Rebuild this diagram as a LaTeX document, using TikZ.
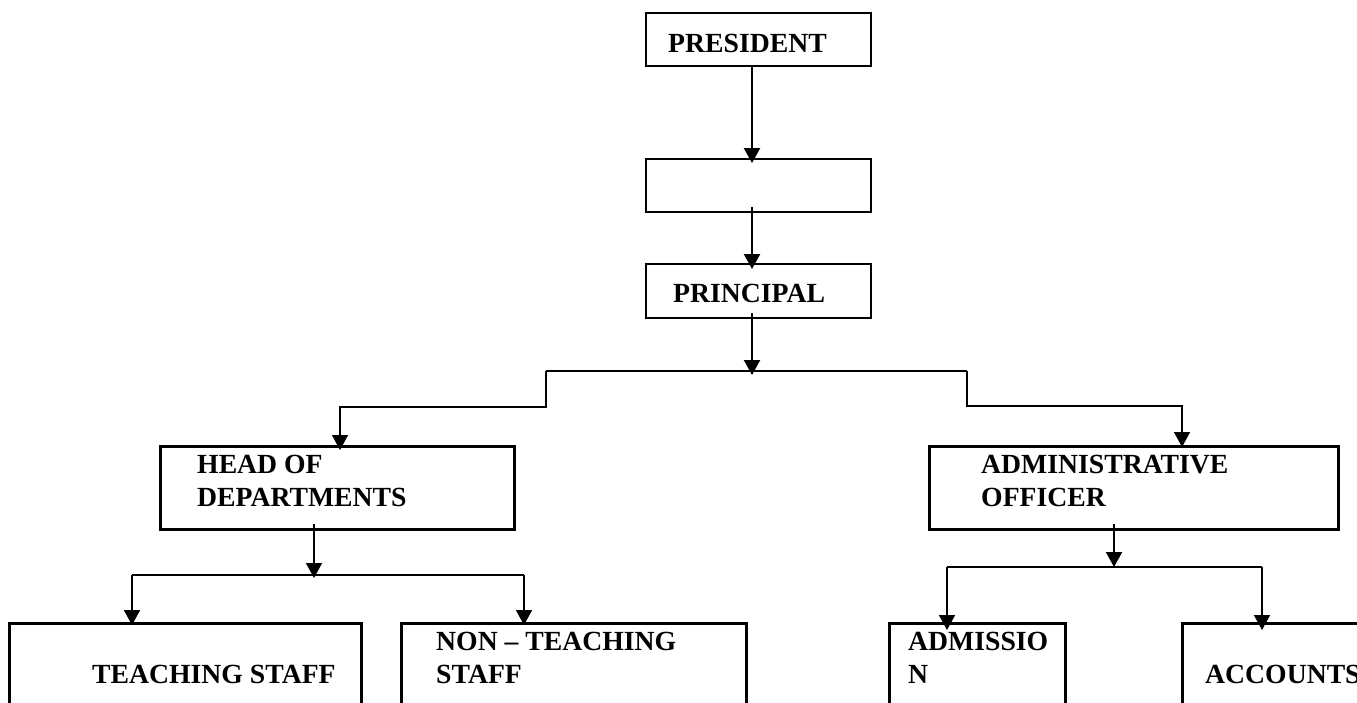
\documentclass[tikz,border=0pt]{standalone}
\usepackage{fontspec}
\setmainfont{Liberation Serif}
\usetikzlibrary{arrows.meta,calc}
\begin{document}
\begin{tikzpicture}[x=1pt,y=-1pt,
  thinbox/.style={draw=black,line width=1.3pt,rectangle,inner sep=0pt,outer sep=0pt},
  thickbox/.style={draw=black,line width=3pt,rectangle,inner sep=0pt,outer sep=0pt},
  lbl/.style={anchor=base west,inner sep=0pt,font=\bfseries\fontsize{27.7}{33}\selectfont},
  conn/.style={draw=black,line width=1.5pt},
  arr/.style={draw=black,line width=2.2pt,-{Triangle[width=16pt,length=15pt]}},
  arrt/.style={draw=black,line width=1.6pt,-{Triangle[width=16pt,length=15pt]}}]
\useasboundingbox (0,0) rectangle (1357,702);
\clip (0,0) rectangle (1357,702);
\fill[white] (0,0) rectangle (1357,702);
% boxes
\node[thinbox,minimum width=225pt,minimum height=53pt] (pres) at (758.5,39.5) {};
\node[thinbox,minimum width=225pt,minimum height=53pt] (blank) at (758.5,185.5) {};
\node[thinbox,minimum width=225pt,minimum height=54pt] (princ) at (758.5,291) {};
\node[thickbox,minimum width=354pt,minimum height=83pt] (hod) at (337,487.5) {};
\node[thickbox,minimum width=409pt,minimum height=83pt] (admin) at (1133.5,487.5) {};
\node[thickbox,minimum width=352pt,minimum height=100pt] (teach) at (185,673) {};
\node[thickbox,minimum width=345pt,minimum height=100pt] (non) at (573.5,673) {};
\node[thickbox,minimum width=176pt,minimum height=100pt] (adm) at (977,673) {};
\node[thickbox,minimum width=240pt,minimum height=100pt] (acc) at (1302,673) {};
% texts
\node[lbl] (tpres) at (668,52) {PRESIDENT};
\node[lbl] (tprinc) at (673,302) {PRINCIPAL};
\node[lbl] (thod1) at (197,473) {HEAD OF};
\node[lbl] (thod2) at (197,506) {DEPARTMENTS};
\node[lbl] (tadm1) at (981,473) {ADMINISTRATIVE};
\node[lbl] (tadm2) at (981,506) {OFFICER};
\node[lbl] (tteach) at (92,683) {TEACHING STAFF};
\node[lbl] (tnon1) at (436,650) {NON – TEACHING};
\node[lbl] (tnon2) at (436,683) {STAFF};
\node[lbl] (tads1) at (908,650) {ADMISSIO};
\node[lbl] (tads2) at (908,683) {N};
\node[lbl] (tacc) at (1205,683) {ACCOUNTS};
% top chain
\draw[arr] ([xshift=-6.5pt]pres.south) -- ([xshift=-6.5pt,yshift=-4pt]blank.north);
\draw[arr] ([xshift=-6.5pt,yshift=5pt]blank.south) -- ([xshift=-6.5pt,yshift=-5pt]princ.north);
% principal bus
\coordinate (b1) at (752,371);
\coordinate (b1L) at (546,371);
\coordinate (b1R) at (967,371);
\draw[arr] ([xshift=-6.5pt,yshift=5pt]princ.south) -- ($(b1)+(0,4)$);
\draw[conn] (b1L) -- (b1R);
\draw[arrt] (b1L) -- ++(0,36) -| ([xshift=3pt,yshift=-4pt]hod.north);
\draw[arrt] (b1R) -- ++(0,35) -| ([xshift=48.5pt,yshift=-1pt]admin.north);
% HOD bus
\coordinate (b2) at (314,575);
\draw[arrt] ([xshift=-23pt,yshift=5pt]hod.south) -- ($(b2)+(0,3)$);
\coordinate (b2L) at (132,575);
\coordinate (b2R) at (524,575);
\draw[conn] (b2L) -- (b2R);
\draw[arrt] (b2L) -- ([xshift=-53pt,yshift=-2pt]teach.north);
\draw[arrt] (b2R) -- ([xshift=-49.5pt,yshift=-2pt]non.north);
% admin bus
\coordinate (b3) at (1114,567);
\draw[arr] ([xshift=-19.5pt,yshift=5pt]admin.south) -- (b3);
\coordinate (b3L) at (947,567);
\coordinate (b3R) at (1262,567);
\draw[draw=black,line width=2.5pt] (b3L) -- (b3R);
\draw[arrt] (b3L) -- ([xshift=-30pt,yshift=-7pt]adm.north);
\draw[arrt] (b3R) -- ([xshift=-40pt,yshift=-7pt]acc.north);
\end{tikzpicture}
\end{document}
